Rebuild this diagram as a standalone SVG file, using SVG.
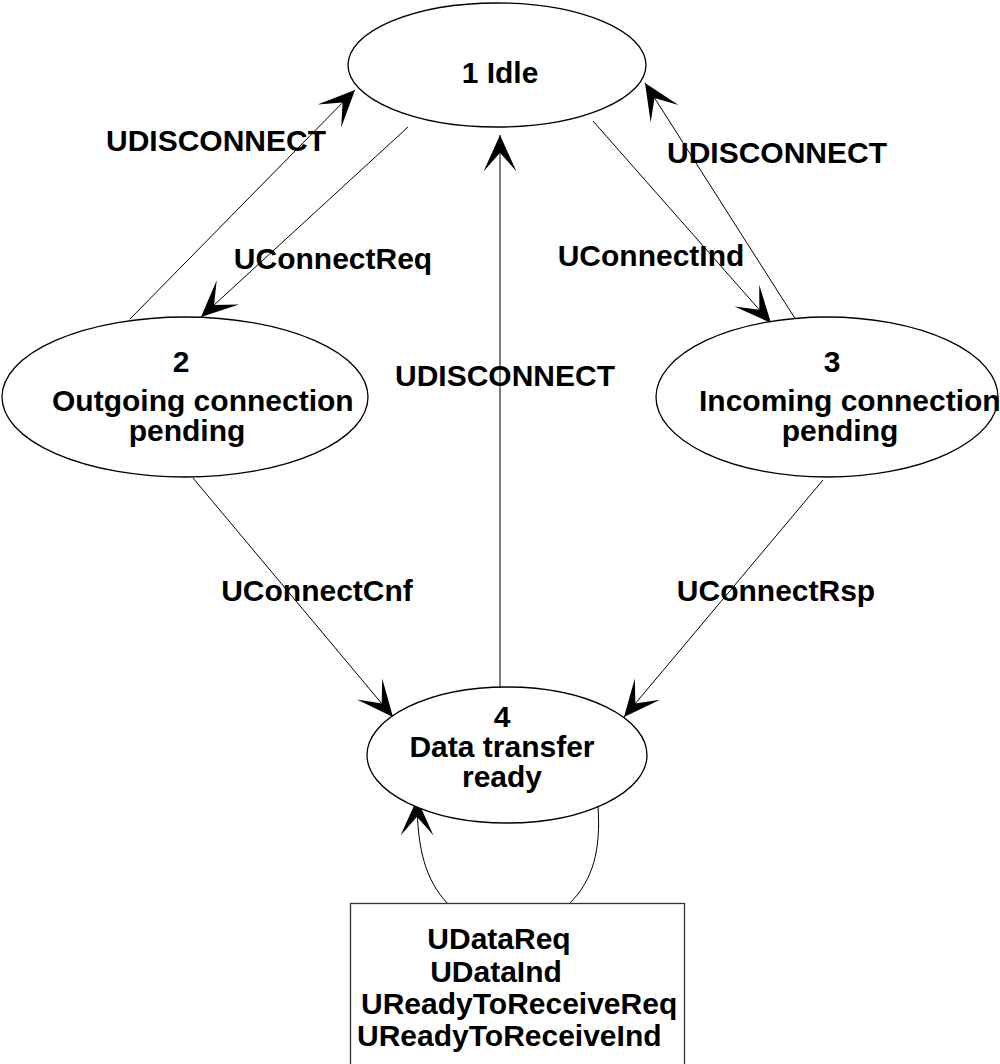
<svg xmlns="http://www.w3.org/2000/svg" width="1000" height="1064" viewBox="0 0 1000 1064">
<style>
.n{fill:#fff;stroke:#000;stroke-width:1.3}
.t{font-family:"Liberation Sans",Arial,sans-serif;font-weight:bold;font-size:30px;fill:#000}
.c{text-anchor:middle}
.e{fill:none;stroke:#000;stroke-width:1}
</style>
<defs>
<marker id="ah" markerUnits="userSpaceOnUse" markerWidth="40" markerHeight="40" viewBox="-32 -16 34 32" refX="0" refY="0" orient="auto">
<path d="M0,0 L-31,-14 L-15,0 L-31,14 Z" fill="#000"/>
</marker>
</defs>
<rect width="1000" height="1064" fill="#fff"/>
<g id="connectors">
<line class="e" x1="130" y1="319" x2="355" y2="90" marker-end="url(#ah)"/>
<line class="e" x1="408" y1="127" x2="201" y2="317" marker-end="url(#ah)"/>
<line class="e" x1="500" y1="689" x2="500" y2="135" marker-end="url(#ah)"/>
<line class="e" x1="593" y1="121" x2="771" y2="323" marker-end="url(#ah)"/>
<line class="e" x1="796" y1="320" x2="645" y2="83" marker-end="url(#ah)"/>
<line class="e" x1="193" y1="478" x2="393" y2="717" marker-end="url(#ah)"/>
<line class="e" x1="823" y1="480" x2="624" y2="717" marker-end="url(#ah)"/>
<path class="e" d="M447,903 C426,880 417,850 417,799" marker-end="url(#ah)"/>
<path class="e" d="M598,806 C601,850 593,880 570,903"/>
<text class="t c" x="216" y="151">UDISCONNECT</text>
<text class="t c" x="777" y="163">UDISCONNECT</text>
<text class="t c" x="505" y="386">UDISCONNECT</text>
<text class="t c" x="333" y="269">UConnectReq</text>
<text class="t c" x="651" y="266">UConnectInd</text>
<text class="t c" x="317" y="601">UConnectCnf</text>
<text class="t c" x="776" y="601">UConnectRsp</text>
</g>
<g id="node1">
<ellipse class="n" cx="497" cy="65" rx="149" ry="62"/>
<text class="t c" x="500" y="83">1 Idle</text>
</g>
<g id="node2">
<ellipse class="n" cx="185" cy="397" rx="183" ry="80"/>
<text class="t c" x="181" y="372">2</text>
<text class="t" x="52" y="411">Outgoing connection</text>
<text class="t c" x="187" y="441">pending</text>
</g>
<g id="node3">
<ellipse class="n" cx="827" cy="397" rx="171" ry="80"/>
<text class="t c" x="832" y="372">3</text>
<text class="t" x="699" y="411">Incoming connection</text>
<text class="t c" x="840" y="441">pending</text>
</g>
<g id="node4">
<ellipse class="n" cx="507" cy="755" rx="140" ry="68"/>
<text class="t c" x="502" y="727">4</text>
<text class="t c" x="502" y="757">Data transfer</text>
<text class="t c" x="502" y="787">ready</text>
</g>
<g id="node5">
<rect x="350.5" y="903.5" width="334" height="200" fill="#fff" stroke="#333" stroke-width="1.3"/>
<text class="t c" x="499" y="949">UDataReq</text>
<text class="t c" x="496" y="982">UDataInd</text>
<text class="t" x="361" y="1014">UReadyToReceiveReq</text>
<text class="t" x="357" y="1046">UReadyToReceiveInd</text>
</g>
</svg>
